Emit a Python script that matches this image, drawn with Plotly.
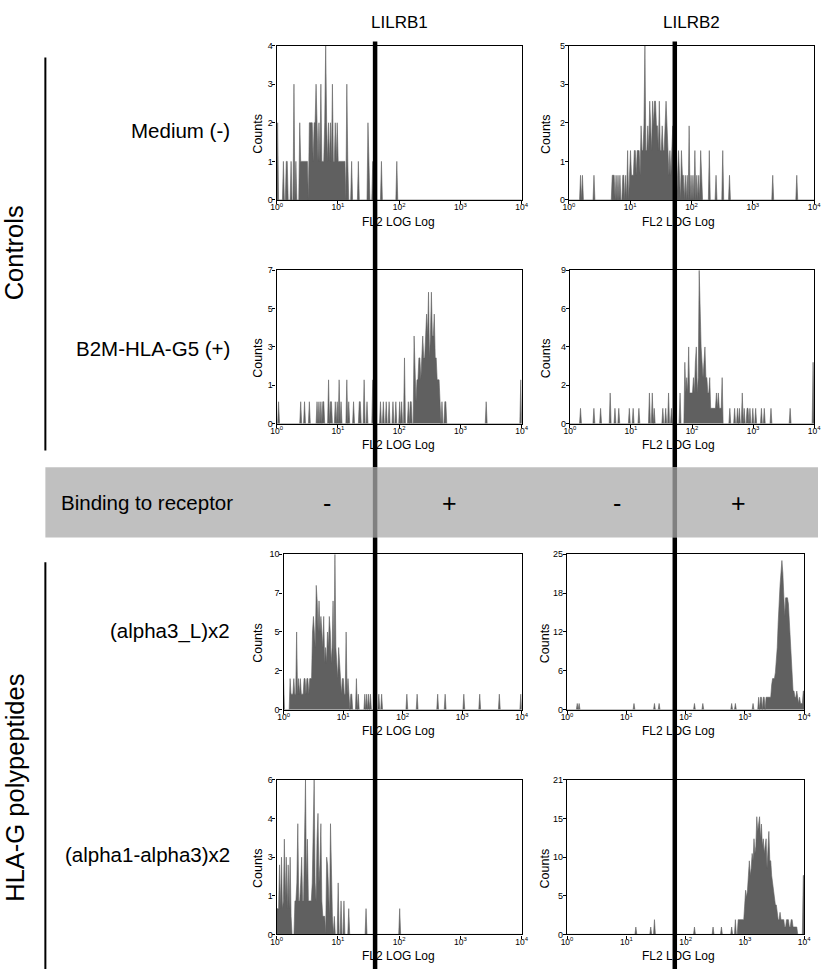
import numpy as np
import plotly.graph_objects as go

W, H = 825, 974
N_CH = 256  # cytometer channels spanning 4 log decades

# ---------------- data: (channel, count) ----------------
medium_lilrb1 = [(1,2),(7,1),(10,1),(11,1),(15,1),(18,3),(20,1),(24,2),(25,1),(26,1),(27,1),(28,1),
    (29,1),(30,1),(31,1),(32,1),(34,2),(35,2),(36,2),(37,2),(38,1),(39,2),(40,2),(41,3),(42,2),(43,1),
    (44,2),(45,1),(46,3),(47,1),(48,1),(49,1),(50,2),(51,4),(52,2),(53,1),(54,2),(55,1),(56,2),(57,1),
    (58,3),(59,1),(60,1),(61,2),(62,1),(63,2),(64,1),(65,1),(66,1),(67,1),(68,1),(69,1),(70,1),(71,1),
    (73,3),(74,1),(78,1),(85,1),(95,2),(96,1),(100,1),(109,1),(125,1)]

medium_lilrb2 = [(12,0.8),(14,0.8),(26,0.8),(45,0.8),(46,0.8),(47,0.8),(49,0.8),(51,0.8),(53,0.8),
    (56,0.8),(57,0.8),(59,0.8),(61,1.6),(63,0.8),(64,1.6),(65,0.8),(66,0.8),(67,0.8),(68,1.6),(69,1.6),
    (70,0.8),(71,1.6),(72,1.6),(73,1.6),(74,0.8),(75,2.4),(76,1.6),(77,1.6),(78,2.4),(79,5),(80,1.6),
    (81,1.6),(82,2.4),(83,1.6),(84,3.2),(85,2.4),(86,1.6),(87,3.2),(88,2.4),(89,3.2),(90,3.2),(91,2.4),
    (92,2.4),(93,1.6),(94,3.2),(95,1.6),(96,1.6),(97,2.4),(98,1.6),(99,1.6),(100,2.4),(101,3.2),
    (102,2.4),(103,1.6),(104,0.8),(105,1.6),(106,0.8),(107,1.6),(108,2.4),(109,1.6),(110,0.8),
    (113,0.8),(114,1.6),(115,0.8),(117,1.6),(118,0.8),(119,0.8),(121,0.8),(123,0.8),(125,2.4),
    (127,0.8),(129,0.8),(131,1.6),(133,0.8),(135,0.8),(137,1.6),(138,0.8),(146,1.6),(153,0.8),
    (160,1.6),(167,0.8),(212,0.8),(237,0.8)]

b2m_lilrb1 = [(2,1),(25,1),(29,1),(34,1),(42,1),(44,1),(46,1),(48,1),(49,1),(54,2),(56,1),(57,1),
    (61,1),(63,1),(65,2),(67,1),(73,2),(75,1),(80,1),(86,1),(87,1),(91,2),(94,1),(100,2),(108,1),
    (111,1),(114,1),(117,1),(121,1),(124,1),(128,1),(130,1),(133,3),(137,1),(139,1),(140,1),(143,4),
    (144,2),(145,1),(146,2),(147,2),(148,3),(149,3),(150,2),(151,3),(152,4),(153,3),(154,3),(155,4),
    (156,5),(157,4),(158,6),(159,3),(160,4),(161,6),(162,4),(163,4),(164,5),(165,3),(166,3),(167,2),
    (168,2),(169,2),(170,1),(172,1),(175,1),(176,1),(218,1),(254,2)]

b2m_lilrb2 = [(11,0.9),(25,0.9),(32,0.9),(42,1.8),(47,0.9),(51,0.9),(62,0.9),(66,0.9),(72,0.9),
    (83,1.8),(86,1.8),(88,0.9),(97,0.9),(100,0.9),(103,1.8),(106,0.9),(115,1.8),(120,3.6),(121,1.8),
    (122,2.7),(123,1.8),(124,4.5),(125,1.8),(126,1.8),(127,1.8),(128,1.8),(129,2.7),(130,1.8),
    (131,3.6),(132,4.5),(133,1.8),(134,2.7),(135,9),(136,5.4),(137,4.5),(138,3.6),(139,2.7),(140,3.6),
    (141,4.5),(142,2.7),(143,2.7),(144,1.8),(145,1.8),(146,2.7),(147,0.9),(148,0.9),(149,0.9),
    (150,0.9),(151,0.9),(152,0.9),(153,1.8),(154,0.9),(155,1.8),(156,0.9),(157,0.9),(158,0.9),
    (159,2.7),(167,0.9),(172,0.9),(175,0.9),(177,0.9),(180,1.8),(182,0.9),(185,0.9),(186,0.9),
    (188,0.9),(191,0.9),(194,0.9),(200,0.9),(203,0.9),(210,0.9),(230,0.9),(254,3.6)]

a3l_lilrb1 = [(0,2),(7,2),(8,1),(9,1),(10,1),(11,2),(12,1),(13,1),(14,5),(15,1),(16,2),(17,1),(18,2),
    (19,1),(20,1),(21,1),(22,2),(23,2),(24,1),(25,2),(26,2),(27,1),(28,2),(29,2),(30,2),(31,5),(32,6),
    (33,5),(34,4),(35,8),(36,7),(37,5),(38,7),(39,5),(40,6),(41,5),(42,4),(43,6),(44,3),(45,4),(46,3),
    (47,5),(48,4),(49,6),(50,5),(51,3),(52,4),(53,7),(54,3),(55,10),(56,4),(57,3),(58,2),(59,4),(60,3),
    (61,2),(62,1),(63,2),(64,2),(65,1),(66,1),(67,5),(68,1),(69,2),(70,1),(72,1),(73,1),(78,2),(80,1),
    (87,1),(89,1),(91,1),(93,1),(102,1),(105,1),(132,1),(143,1),(165,1),(173,1),(193,1),(210,1),
    (231,1),(254,1)]

a3l_lilrb2 = [(11,1),(13,1),(72,1),(94,1),(99,1),(137,1),(146,1),(177,1),(181,1),(200,1),(206,2),
    (208,2),(209,2),(211,2),(212,2),(214,2),(215,2),(216,2),(217,2),(218,2),(219,2),(220,4),(221,5),
    (222,5),(223,5),(224,6),(225,8),(226,10),(227,14),(228,18),(229,20),(230,22),(231,24),(232,22),
    (233,17),(234,15),(235,18),(236,18),(237,18),(238,17),(239,14),(240,10),(241,8),(242,4),(243,3),
    (244,3),(245,2),(246,2),(247,3),(248,2),(249,1),(250,2),(251,1),(252,1),(253,1),(254,3),(255,3)]

a1a3_lilrb1 = [(0,1),(1,1),(2,1),(3,2.7),(4,1),(5,3),(6,1),(7,1.3),(8,3.7),(9,1.3),(10,3),(11,1),
    (12,2.7),(13,1),(14,3),(15,0.7),(19,1.3),(20,1.3),(21,2),(22,4.3),(23,1.3),(24,1.3),(25,2),(26,3),
    (27,1.3),(28,1.3),(29,3.7),(30,6),(31,2),(32,3.7),(33,1.3),(34,1.3),(35,1.3),(36,1.3),(37,2),
    (38,4.3),(39,6),(40,2),(41,1.3),(42,3.7),(43,4.7),(44,2),(45,2.7),(46,4.3),(47,1.3),(48,0.7),
    (49,0.7),(50,0.7),(52,3),(53,2.7),(54,1.3),(55,0.7),(56,4.3),(57,2),(58,0.7),(60,0.7),(64,2),
    (67,1.3),(70,1.3),(75,1),(93,1),(128,1)]

a1a3_lilrb2 = [(74,1),(90,1),(94,2),(137,1),(157,1),(166,1),(177,1),(181,2),(184,2),(185,2),(186,2),
    (187,2),(188,2),(189,2),(190,2),(191,4),(192,6),(193,5),(194,6),(195,8),(196,10),(197,8),(198,9),
    (199,11),(200,10),(201,13),(202,11),(203,12),(204,16),(205,14),(206,15),(207,16),(208,13),
    (209,15),(210,12),(211,13),(212,11),(213,12),(214,13),(215,9),(216,11),(217,14),(218,10),
    (219,10),(220,8),(221,7),(222,6),(223,5),(224,4),(225,4),(226,3),(227,2),(228,2),(229,3),(230,2),
    (231,2),(232,2),(233,2),(234,1),(235,1),(236,2),(237,2),(238,2),(239,1),(240,1),(241,2),(242,2),
    (243,1),(244,1),(245,1),(246,1),(247,1),(254,8),(255,8)]

receptors = ["LILRB1", "LILRB2"]
samples = ["Medium (-)", "B2M-HLA-G5 (+)", "(alpha3_L)x2", "(alpha1-alpha3)x2"]
panels = [medium_lilrb1, medium_lilrb2, b2m_lilrb1, b2m_lilrb2,
          a3l_lilrb1, a3l_lilrb2, a1a3_lilrb1, a1a3_lilrb2]
y_max = [4, 5, 7, 9, 10, 25, 6, 21]
y_ticklabels = [["0","1","2","3","4"], ["0","1","2","3","5"], ["0","1","3","5","7"],
                ["0","2","4","6","9"], ["0","2","5","7","10"], ["0","6","12","18","25"],
                ["0","1","3","4","6"], ["0","5","10","15","21"]]
x_tickvals = [1, 10, 100, 1000, 10000]
x_ticktext = ["10<sup>0</sup>", "10<sup>1</sup>", "10<sup>2</sup>", "10<sup>3</sup>", "10<sup>4</sup>"]
binding = ["-", "+", "-", "+"]

# ---------------- layout geometry (pixels) ----------------
boxes = [(275, 524, 41, 197), (572, 821, 41, 197),
         (275, 524, 268, 423), (573, 821, 268, 423),
         (282, 524, 555, 712), (570, 811, 555, 712),
         (275, 524, 783, 939), (570, 811, 783, 939)]
FILL = "#606060"
FONT = "Liberation Sans, Arial, sans-serif"

def px(x):
    return x / W

def py(y):
    return 1 - y / H

channels = np.arange(N_CH)
intensity = 10 ** (channels * 4 / (N_CH - 1))

fig = go.Figure()
layout = dict(width=W, height=H, margin=dict(l=0, r=0, t=0, b=0),
              paper_bgcolor="white", plot_bgcolor="white", showlegend=False,
              font=dict(family=FONT, color="black"))
annotations = []
shapes = []

for i, (data, ymax, ylab, box) in enumerate(zip(panels, y_max, y_ticklabels, boxes)):
    n = i + 1
    sfx = str(n) if n > 1 else ""
    counts = np.zeros(N_CH)
    for ch, ct in data:
        counts[ch] = ct
    fig.add_trace(go.Scatter(x=intensity, y=counts, mode="lines", fill="tozeroy",
                             line=dict(color=FILL, width=0.6), fillcolor=FILL,
                             xaxis="x" + sfx, yaxis="y" + sfx, hoverinfo="skip"))
    l, r, t, b = box
    ax_common = dict(showline=True, mirror=True, linecolor="black", linewidth=1.4,
                     showgrid=False, zeroline=False, ticks="outside", ticklen=3,
                     tickwidth=1, tickcolor="black")
    layout["xaxis" + sfx] = dict(
        domain=[px(l), px(r)], type="log", range=[0, 4], tickvals=x_tickvals,
        ticktext=x_ticktext, anchor="y" + sfx, ticklabelstandoff=-4,
        tickfont=dict(size=8.5, family=FONT), **ax_common)
    layout["yaxis" + sfx] = dict(
        domain=[py(b), py(t)], range=[0, ymax],
        tickvals=[ymax * f for f in (0, 0.25, 0.5, 0.75, 1)], ticktext=ylab,
        anchor="x" + sfx, ticklabelstandoff=-2,
        tickfont=dict(size=9, family=FONT), **ax_common)
    col = i % 2
    annotations.append(dict(text="FL2 LOG Log", x=px(399 if col == 0 else 683), y=py(b + 22),
                            xref="paper", yref="paper", showarrow=False,
                            font=dict(size=12), xanchor="center", yanchor="middle"))
    annotations.append(dict(text="Counts", x=px(256 if col == 0 else 548), y=py((t + b) / 2 + 11),
                            xref="paper", yref="paper", showarrow=False, textangle=-90,
                            font=dict(size=12.5), xanchor="center", yanchor="middle"))

for name, xc in zip(receptors, [400, 696]):
    annotations.append(dict(text=name, x=px(xc), y=py(18), xref="paper", yref="paper",
                            showarrow=False, font=dict(size=17), xanchor="center", yanchor="middle"))
for name, yc in zip(samples, [127, 347, 632, 858]):
    annotations.append(dict(text=name, x=px(230), y=py(yc), xref="paper", yref="paper",
                            showarrow=False, font=dict(size=20.5), xanchor="right", yanchor="middle"))
for name, yc in zip(["Controls", "HLA-G polypeptides"], [250, 791]):
    annotations.append(dict(text=name, x=px(9), y=py(yc), xref="paper", yref="paper",
                            showarrow=False, textangle=-90, font=dict(size=25.5),
                            xanchor="center", yanchor="middle"))

shapes.append(dict(type="rect", xref="paper", yref="paper", x0=px(40), x1=px(825),
                   y0=py(538), y1=py(467), fillcolor="#c0c0c0", line=dict(width=0), layer="above"))
annotations.append(dict(text="Binding to receptor", x=px(54), y=py(503), xref="paper", yref="paper",
                        showarrow=False, font=dict(size=20.5), xanchor="left", yanchor="middle"))
for sym, xc in zip(binding, [326, 451, 621, 744]):
    annotations.append(dict(text=sym, x=px(xc), y=py(503), xref="paper", yref="paper",
                            showarrow=False, font=dict(size=25), xanchor="center", yanchor="middle"))

for y0, y1 in [(53, 450), (563, 974)]:
    shapes.append(dict(type="line", xref="paper", yref="paper", x0=px(40), x1=px(40),
                       y0=py(y0), y1=py(y1), line=dict(color="black", width=2)))

for xg in [375, 679.5]:
    for y0, y1, c in [(37, 467, "black"), (467, 538, "#808080"), (538, 974, "black")]:
        shapes.append(dict(type="line", xref="paper", yref="paper", x0=px(xg), x1=px(xg),
                           y0=py(y0), y1=py(y1), line=dict(color=c, width=4.5), layer="above"))

layout["annotations"] = annotations
layout["shapes"] = shapes
fig.update_layout(**layout)
fig.write_html("out.html", config={"displayModeBar": False},
               post_script="document.body.style.margin='0';document.body.style.overflow='hidden';")
